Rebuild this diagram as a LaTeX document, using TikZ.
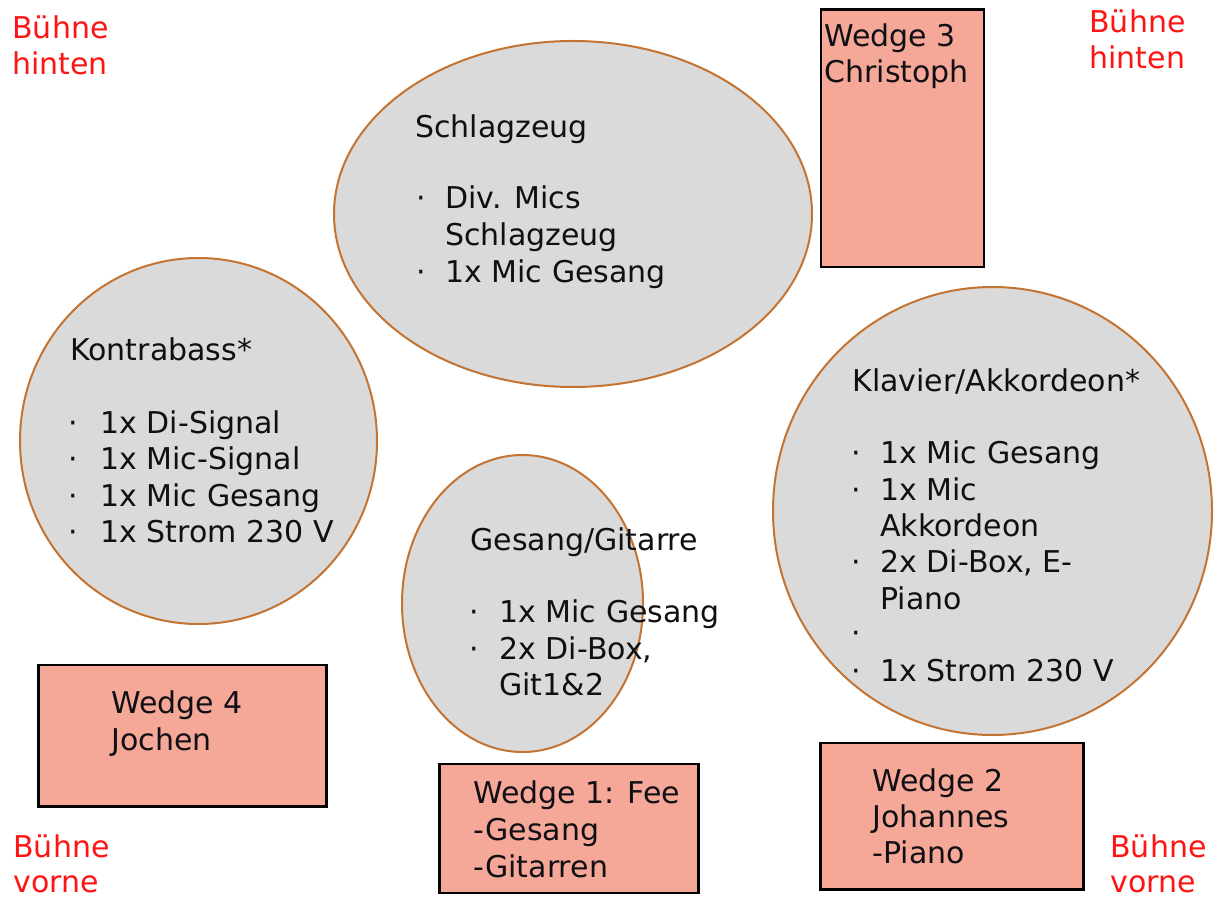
\documentclass[tikz,border=0pt]{standalone}
\usepackage{fontspec}
\setmainfont{DejaVu Sans}
\usetikzlibrary{shapes.geometric}
\definecolor{ellfill}{RGB}{218,218,218}
\definecolor{ellborder}{RGB}{195,115,50}
\definecolor{wedgefill}{RGB}{246,168,152}
\definecolor{stagered}{RGB}{255,20,20}
\definecolor{txtcol}{RGB}{15,15,20}
\tikzset{
  ell/.style={ellipse, draw=ellborder, fill=ellfill, line width=1pt, inner sep=0pt},
  wedgebox/.style={rectangle, draw=black, fill=wedgefill, line width=1.4pt, inner sep=0pt},
  txt/.style={anchor=base west, inner sep=0pt, text=txtcol, font=\fontsize{15pt}{18pt}\selectfont},
  redtxt/.style={txt, text=stagered},
}
\begin{document}
\begin{tikzpicture}[x=0.5pt,y=-0.5pt]
\useasboundingbox (0,0) rectangle (1220,897);
\fill[white] (0,0) rectangle (1220,897);

% ellipses
\node[ell, minimum width=239pt, minimum height=173pt] (drums) at (573,214) {};
\node[ell, minimum width=178.5pt, minimum height=183pt] (bass) at (198.5,441) {};
\node[ell, minimum width=120.5pt, minimum height=148.5pt] (guitar) at (522.5,603.5) {};
\node[ell, minimum width=219.5pt, minimum height=224pt] (piano) at (992.5,511) {};

% wedges
\node[wedgebox, minimum width=81.5pt, minimum height=128.75pt] (w3) at (902.5,138.25) {};
\node[wedgebox, minimum width=144pt, minimum height=70.75pt] (w4) at (182.5,735.75) {};
\node[wedgebox, minimum width=129.5pt, minimum height=64.5pt] (w1) at (569,828.5) {};
\node[wedgebox, minimum width=131.5pt, minimum height=73.25pt] (w2) at (952,816.25) {};

% Schlagzeug
\node[txt] (d0) at (415,138) {Schlagzeug};
\node[txt] (d1b) at (416,209) {·};
\node[txt] (d1) at (445,209) {Div. Mics};
\node[txt] (d2) at (445,246) {Schlagzeug};
\node[txt] (d3b) at (416,283) {·};
\node[txt] (d3) at (445,283) {1x Mic Gesang};

% Kontrabass
\node[txt] (b0) at (70,361) {Kontrabass*};
\node[txt] (b1b) at (68,434) {·};
\node[txt] (b1) at (100,434) {1x Di-Signal};
\node[txt] (b2b) at (68,470) {·};
\node[txt] (b2) at (100,470) {1x Mic-Signal};
\node[txt] (b3b) at (68,507) {·};
\node[txt] (b3) at (100,507) {1x Mic Gesang};
\node[txt] (b4b) at (68,543) {·};
\node[txt] (b4) at (100,543) {1x Strom 230 V};

% Gesang/Gitarre
\node[txt] (g0) at (470,551) {Gesang/Gitarre};
\node[txt] (g1b) at (469,622) {·};
\node[txt] (g1) at (499,622) {1x Mic Gesang};
\node[txt] (g2b) at (469,659) {·};
\node[txt] (g2) at (499,659) {2x Di-Box,};
\node[txt] (g3) at (499,695) {Git1\&2};

% Klavier/Akkordeon
\node[txt] (k0) at (852,392) {Klavier/Akkordeon*};
\node[txt] (k1b) at (851,464) {·};
\node[txt] (k1) at (880,464) {1x Mic Gesang};
\node[txt] (k2b) at (851,501) {·};
\node[txt] (k2) at (880,501) {1x Mic};
\node[txt] (k3) at (880,537) {Akkordeon};
\node[txt] (k4b) at (851,573) {·};
\node[txt] (k4) at (880,573) {2x Di-Box, E-};
\node[txt] (k5) at (880,609) {Piano};
\node[txt] (k6b) at (851,643) {·};
\node[txt] (k7b) at (851,681) {·};
\node[txt] (k7) at (880,681) {1x Strom 230 V};

% wedge texts
\node[txt] (w3a) at (824,47) {Wedge 3};
\node[txt] (w3b) at (824,83) {Christoph};
\node[txt] (w4a) at (111,713) {Wedge 4};
\node[txt] (w4b) at (111,750) {Jochen};
\node[txt] (w1a) at (473,803) {Wedge 1: Fee};
\node[txt] (w1b) at (473,840) {-Gesang};
\node[txt] (w1c) at (473,877) {-Gitarren};
\node[txt] (w2a) at (872,791) {Wedge 2};
\node[txt] (w2b) at (872,827) {Johannes};
\node[txt] (w2c) at (872,863) {-Piano};

% stage labels
\node[redtxt] (tl1) at (12,39) {Bühne};
\node[redtxt] (tl2) at (12,75) {hinten};
\node[redtxt] (tr1) at (1089,33) {Bühne};
\node[redtxt] (tr2) at (1089,69) {hinten};
\node[redtxt] (bl1) at (13,857) {Bühne};
\node[redtxt] (bl2) at (13,892) {vorne};
\node[redtxt] (br1) at (1110,857) {Bühne};
\node[redtxt] (br2) at (1110,892) {vorne};
\end{tikzpicture}
\end{document}
